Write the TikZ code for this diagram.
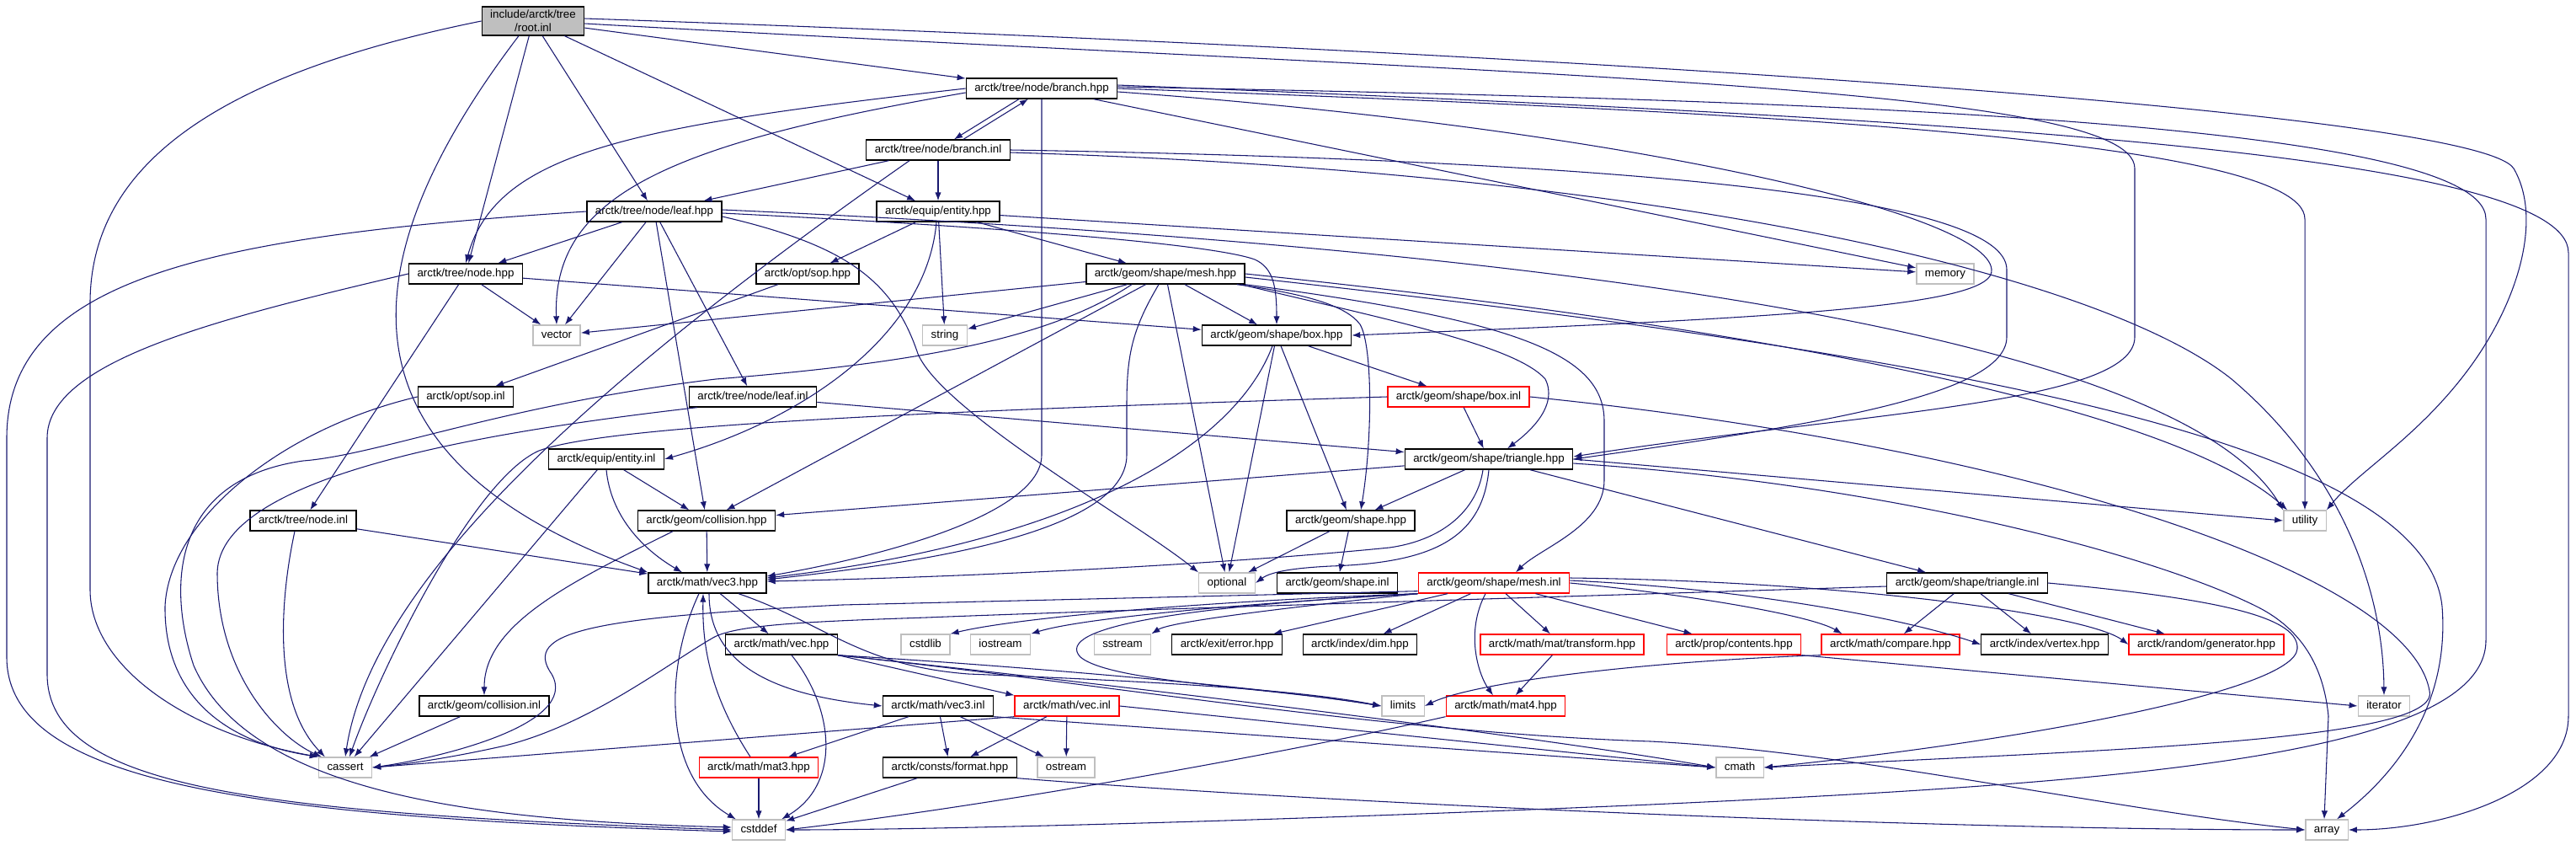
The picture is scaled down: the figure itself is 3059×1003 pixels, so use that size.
\documentclass[tikz,border=0pt]{standalone}
\usepackage{fontspec}
\setmainfont{Liberation Sans}
\usepackage{xcolor}
\usepackage{tikz}
\usetikzlibrary{arrows.meta, positioning, calc}
\definecolor{edgeblue}{HTML}{191970}
\definecolor{sysgrey}{HTML}{BFBFBF}

\begin{document}
\begin{tikzpicture}[
    x=0.75pt, y=-0.75pt,
    block/.style={rectangle, draw=black, fill=white, line width=1pt, font=\fontsize{10}{12}\selectfont, inner xsep=7.5pt, inner ysep=2pt, minimum height=18pt, text height=7.5pt, text depth=2.4pt},
    sysblock/.style={block, draw=sysgrey},
    redblock/.style={block, draw=red},
    rootblock/.style={rectangle, draw=black, fill=sysgrey, line width=1pt, font=\fontsize{10}{12}\selectfont, inner xsep=7.5pt, inner ysep=3pt, align=center},
    line/.style={draw=edgeblue, line width=0.8pt, -{Latex[length=7.5pt,width=5.5pt]}}
]
\useasboundingbox (0,0) rectangle (3059,1003);

\node [rootblock] (root) at (633,25) {include/arctk/tree\\/root.inl};
\node [block] (branchhpp) at (1237,105) {arctk/tree/node/branch.hpp};
\node [block] (branchinl) at (1114,178) {arctk/tree/node/branch.inl};
\node [block] (leafhpp) at (777,251) {arctk/tree/node/leaf.hpp};
\node [block] (entityhpp) at (1114,251) {arctk/equip/entity.hpp};
\node [block] (nodehpp) at (553,325) {arctk/tree/node.hpp};
\node [block] (sophpp) at (959,325) {arctk/opt/sop.hpp};
\node [block] (meshhpp) at (1384,325) {arctk/geom/shape/mesh.hpp};
\node [sysblock] (memory) at (2310,325) {memory};
\node [sysblock] (vector) at (661,398) {vector};
\node [sysblock] (string) at (1122,398) {string};
\node [block] (boxhpp) at (1516,398) {arctk/geom/shape/box.hpp};
\node [block] (sopinl) at (553,471) {arctk/opt/sop.inl};
\node [block] (leafinl) at (894,471) {arctk/tree/node/leaf.inl};
\node [redblock] (boxinl) at (1732,471) {arctk/geom/shape/box.inl};
\node [block] (entityinl) at (720,545) {arctk/equip/entity.inl};
\node [block] (trianglehpp) at (1768,545) {arctk/geom/shape/triangle.hpp};
\node [block] (nodeinl) at (360,618) {arctk/tree/node.inl};
\node [block] (collisionhpp) at (839,618) {arctk/geom/collision.hpp};
\node [block] (shapehpp) at (1604,618) {arctk/geom/shape.hpp};
\node [sysblock] (utility) at (2737,618) {utility};
\node [block] (vec3hpp) at (840,692) {arctk/math/vec3.hpp};
\node [sysblock] (optional) at (1457,692) {optional};
\node [block] (shapeinl) at (1588,692) {arctk/geom/shape.inl};
\node [redblock] (meshinl) at (1774,692) {arctk/geom/shape/mesh.inl};
\node [block] (triangleinl) at (2336,692) {arctk/geom/shape/triangle.inl};
\node [block] (vechpp) at (928,765) {arctk/math/vec.hpp};
\node [sysblock] (cstdlib) at (1099,765) {cstdlib};
\node [sysblock] (iostream) at (1188,765) {iostream};
\node [sysblock] (sstream) at (1333,765) {sstream};
\node [block] (errorhpp) at (1457,765) {arctk/exit/error.hpp};
\node [block] (dimhpp) at (1615,765) {arctk/index/dim.hpp};
\node [redblock] (transformhpp) at (1855,765) {arctk/math/mat/transform.hpp};
\node [redblock] (contentshpp) at (2059,765) {arctk/prop/contents.hpp};
\node [redblock] (comparehpp) at (2245,765) {arctk/math/compare.hpp};
\node [block] (vertexhpp) at (2428,765) {arctk/index/vertex.hpp};
\node [redblock] (generatorhpp) at (2620,765) {arctk/random/generator.hpp};
\node [block] (collisioninl) at (575,838) {arctk/geom/collision.inl};
\node [block] (vec3inl) at (1114,838) {arctk/math/vec3.inl};
\node [redblock] (vecinl) at (1267,838) {arctk/math/vec.inl};
\node [sysblock] (limits) at (1666,838) {limits};
\node [redblock] (mat4hpp) at (1788,838) {arctk/math/mat4.hpp};
\node [sysblock] (iterator) at (2831,838) {iterator};
\node [sysblock] (cassert) at (410,911) {cassert};
\node [redblock] (mat3hpp) at (901,911) {arctk/math/mat3.hpp};
\node [block] (formathpp) at (1128,911) {arctk/consts/format.hpp};
\node [sysblock] (ostream) at (1266,911) {ostream};
\node [sysblock] (cmath) at (2066,911) {cmath};
\node [sysblock] (cstddef) at (901,985) {cstddef};
\node [sysblock] (array) at (2763,985) {array};

\path [line] (root.west) .. controls (250,90) and (107,200) .. (107,360) -- (107,700) .. controls (107,790) and (220,870) .. (cassert.north west);
\path [line] (root) -- (nodehpp);
\path [line] ($(root.south)+(-17,0)$) .. controls (420,300) and (380,540) .. (vec3hpp.north west);
\path [line] (root) -- (leafhpp);
\path [line] (root) -- (entityhpp);
\path [line] (root) -- (branchhpp);
\path [line] ($(root.east)+(0,3)$) .. controls (1800,90) and (2535,100) .. (2535,200) -- (2535,400) .. controls (2535,480) and (2200,490) .. ($(trianglehpp.east)+(0,-3)$);
\path [line] ($(root.east)+(0,-3)$) .. controls (1800,60) and (2940,130) .. (2985,200) .. controls (3020,260) and (2990,360) .. (2930,440) .. controls (2870,520) and (2800,560) .. (utility.north east);

\path [line] (branchhpp.west) .. controls (750,150) and (590,180) .. (nodehpp.north);
\path [line] ($(branchhpp.west)+(0,5)$) .. controls (800,170) and (655,230) .. (vector.north);
\path [line] ($(branchhpp.south)+(-27,0)$) -- ($(branchinl.north)+(19,0)$);
\path [line] ($(branchinl.north)+(30,0)$) -- ($(branchhpp.south)+(-16,0)$);
\path [line] (branchhpp.south) -- (1237,540) .. controls (1237,610) and (1050,660) .. ($(vec3hpp.east)+(0,-8)$);
\path [line] (branchhpp) -- (memory);
\path [line] ($(branchhpp.east)+(0,4)$) .. controls (1900,150) and (2360,250) .. (2365,320) .. controls (2370,365) and (2100,378) .. (boxhpp.east);
\path [line] (branchhpp.east) .. controls (2000,130) and (2737,160) .. (2737,260) -- (utility.north);
\path [line] ($(branchhpp.east)+(0,-2)$) .. controls (2100,118) and (2952,140) .. (2952,260) -- (2952,760) .. controls (2952,900) and (2500,930) .. (1960,955) .. controls (1500,975) and (1100,985) .. (cstddef.east);
\path [line] ($(branchhpp.east)+(0,-4)$) .. controls (2300,140) and (3050,180) .. (3050,300) -- (3050,850) .. controls (3050,940) and (2900,985) .. (array.east);

\path [line] (branchinl) -- (leafhpp);
\path [line] (branchinl) -- (entityhpp);
\path [line] ($(branchinl.south)+(-34,0)$) .. controls (680,470) and (440,700) .. (cassert.north);
\path [line] (branchinl.east) .. controls (1900,190) and (2383,230) .. (2383,320) -- (2383,400) .. controls (2383,470) and (2150,505) .. (trianglehpp.east);
\path [line] ($(branchinl.east)+(0,3)$) .. controls (2000,205) and (2500,330) .. (2650,450) .. controls (2780,560) and (2830,700) .. (iterator.north);

\path [line] (leafhpp.west) .. controls (250,280) and (8,330) .. (8,520) -- (8,780) .. controls (8,930) and (300,970) .. ($(cstddef.west)+(0,2)$);
\path [line] (leafhpp) -- (nodehpp);
\path [line] (leafhpp) -- (vector);
\path [line] (leafhpp) -- (collisionhpp);
\path [line] (leafhpp) -- (leafinl);
\path [line] ($(leafhpp.east)+(0,2)$) .. controls (1200,270) and (1440,290) .. (1490,308) .. controls (1512,318) and (1516,340) .. (boxhpp.north);
\path [line] ($(leafhpp.east)+(0,-2)$) .. controls (2000,300) and (2600,420) .. (utility.north west);
\path [line] ($(leafhpp.east)+(0,6)$) .. controls (1000,290) and (1060,330) .. (1090,420) .. controls (1120,490) and (1350,620) .. (optional.north west);

\path [line] (entityhpp) -- (sophpp);
\path [line] ($(entityhpp.south)+(-2,0)$) .. controls (1100,400) and (950,500) .. (entityinl.east);
\path [line] (entityhpp) -- (string);
\path [line] (entityhpp) -- (meshhpp);
\path [line] (entityhpp) -- (memory);

\path [line] (nodehpp) -- (vector);
\path [line] (nodehpp) -- (boxhpp);
\path [line] (nodehpp) -- (nodeinl);
\path [line] (nodehpp.west) .. controls (250,380) and (56,430) .. (56,520) -- (56,800) .. controls (56,935) and (300,965) .. (cstddef.west);

\path [line] (sophpp) -- (sopinl);

\path [line] (meshhpp) -- (vector);
\path [line] (meshhpp) -- (string);
\path [line] (meshhpp) -- (boxhpp);
\path [line] (meshhpp) -- (optional);
\path [line] (meshhpp) -- (collisionhpp);
\path [line] ($(meshhpp.south)+(-8,0)$) .. controls (1345,390) and (1338,420) .. (1338,480) -- (1338,540) .. controls (1338,640) and (1050,672) .. ($(vec3hpp.east)+(0,-4)$);
\path [line] ($(meshhpp.south)+(-40,0)$) .. controls (1250,400) and (1100,430) .. (850,450) .. controls (600,480) and (450,540) .. (360,547) .. controls (200,570) and (200,700) .. (230,790) .. controls (300,950) and (600,975) .. ($(cstddef.west)+(0,-3)$);
\path [line] ($(meshhpp.south east)+(-10,0)$) .. controls (1560,350) and (1600,365) .. (1615,385) .. controls (1630,410) and (1630,520) .. ($(shapehpp.north)+(12,0)$);
\path [line] ($(meshhpp.south east)+(-5,0)$) .. controls (1650,380) and (1800,410) .. (1835,450) .. controls (1850,480) and (1820,510) .. ($(trianglehpp.north)+(22,0)$);
\path [line] (meshhpp.south east) .. controls (1800,380) and (1905,420) .. (1905,500) -- (1905,570) .. controls (1905,625) and (1830,650) .. ($(meshinl.north)+(26,0)$);
\path [line] (meshhpp.east) .. controls (2200,400) and (2600,500) .. ($(utility.north west)+(5,0)$);
\path [line] ($(meshhpp.east)+(0,4)$) .. controls (2300,420) and (2880,520) .. (2900,720) .. controls (2910,850) and (2830,930) .. ($(array.north)+(12,0)$);

\path [line] ($(boxhpp.south)+(-5,0)$) .. controls (1470,520) and (1300,640) .. ($(vec3hpp.east)+(0,-6)$);
\path [line] (boxhpp) -- (optional);
\path [line] (boxhpp) -- (shapehpp);
\path [line] (boxhpp) -- (boxinl);

\path [line] (sopinl.west) .. controls (330,510) and (200,620) .. (196,720) .. controls (195,820) and (260,880) .. (cassert.north west);

\path [line] (leafinl) -- (trianglehpp);
\path [line] ($(leafinl.south west)+(10,0)$) .. controls (600,510) and (260,560) .. (258,680) .. controls (258,800) and (330,875) .. ($(cassert.north west)+(4,0)$);

\path [line] (boxinl) -- (trianglehpp);
\path [line] (boxinl.west) .. controls (1100,488) and (720,505) .. (640,535) .. controls (560,570) and (450,800) .. ($(cassert.north)+(5,0)$);
\path [line] (boxinl.east) .. controls (2400,530) and (2860,680) .. (2885,820) .. controls (2900,880) and (2500,890) .. (cmath.east);

\path [line] (entityinl) -- (collisionhpp);
\path [line] (entityinl.south) .. controls (725,610) and (760,650) .. ($(vec3hpp.north)+(-30,0)$);
\path [line] (entityinl) -- (cassert);

\path [line] (trianglehpp) -- (collisionhpp);
\path [line] (trianglehpp) -- (shapehpp);
\path [line] ($(trianglehpp.south)+(-7,0)$) .. controls (1755,600) and (1720,640) .. (1650,650) .. controls (1450,670) and (1150,685) .. ($(vec3hpp.east)+(0,-2)$);
\path [line] (trianglehpp.south) .. controls (1760,640) and (1700,668) .. (1580,672) .. controls (1540,674) and (1510,678) .. (optional.east);
\path [line] (trianglehpp) -- (triangleinl);
\path [line] (trianglehpp.east) -- (utility.west);
\path [line] ($(trianglehpp.east)+(0,5)$) .. controls (2250,575) and (2560,660) .. (2680,720) .. controls (2740,750) and (2760,800) .. (2765,850) -- ($(array.north)+(-3,0)$);

\path [line] (nodeinl) -- (vec3hpp);
\path [line] ($(nodeinl.south)+(-10,0)$) .. controls (335,700) and (320,830) .. ($(cassert.north west)+(8,0)$);

\path [line] (collisionhpp) -- (vec3hpp);
\path [line] ($(collisionhpp.south)+(-40,0)$) .. controls (680,690) and (575,740) .. (collisioninl.north);
\path [line] (collisioninl) -- (cassert);

\path [line] (shapehpp) -- (optional);
\path [line] (shapehpp) -- (shapeinl);

\path [line] (vec3hpp) -- (vechpp);
\path [line] ($(vec3hpp.south)+(2,0)$) .. controls (842,790) and (920,825) .. (vec3inl.west);
\path [line] ($(vec3hpp.south)+(-10,0)$) .. controls (790,790) and (785,920) .. ($(cstddef.north west)+(5,0)$);
\path [line] ($(vec3hpp.south)+(37,0)$) .. controls (980,740) and (1020,790) .. (1150,800) .. controls (1400,810) and (1550,820) .. (limits.west);

\path [line] (vechpp.south east) -- (vecinl.north west);
\path [line] ($(vechpp.south)+(12,0)$) .. controls (990,840) and (1000,930) .. ($(cstddef.north east)+(-5,0)$);
\path [line] (vechpp.south east) .. controls (1200,790) and (1500,815) .. (limits.west);
\path [line] (vechpp.south east) .. controls (1300,810) and (1800,870) .. (cmath.west);
\path [line] (vechpp.south east) .. controls (1300,810) and (1650,870) .. (1960,880) .. controls (2200,892) and (2500,960) .. (array.west);

\path [line] ($(mat3hpp.north)+(-10,0)$) .. controls (840,820) and (834,760) .. ($(vec3hpp.south)+(-5,0)$);
\path [line] (mat3hpp) -- (cstddef);

\path [line] ($(vec3inl.south)+(-35,0)$) -- ($(mat3hpp.north)+(35,0)$);
\path [line] (vec3inl) -- (formathpp);
\path [line] (vec3inl) -- (ostream);
\path [line] (vec3inl.south east) -- (cmath.west);

\path [line] (vecinl.south west) -- (cassert.east);
\path [line] (vecinl) -- (formathpp);
\path [line] (vecinl) -- (ostream);
\path [line] (vecinl.east) -- (cmath.west);

\path [line] (meshinl.south west) .. controls (1400,715) and (1200,735) .. (cstdlib.north east);
\path [line] (meshinl.south west) .. controls (1450,718) and (1280,735) .. (iostream.north east);
\path [line] (meshinl.south west) .. controls (1520,722) and (1390,738) .. (sstream.north east);
\path [line] (meshinl) -- (errorhpp);
\path [line] (meshinl) -- (dimhpp);
\path [line] ($(meshinl.south)+(-10,0)$) .. controls (1740,750) and (1755,800) .. ($(mat4hpp.north)+(-15,0)$);
\path [line] (meshinl) -- (transformhpp);
\path [line] (meshinl) -- (contentshpp);
\path [line] (meshinl.east) .. controls (2000,705) and (2150,730) .. ($(comparehpp.north west)+(25,0)$);
\path [line] ($(meshinl.east)+(0,-3)$) .. controls (2100,700) and (2280,740) .. (vertexhpp.west);
\path [line] ($(meshinl.east)+(0,-6)$) .. controls (2200,690) and (2480,730) .. (generatorhpp.west);
\path [line] (meshinl.south west) .. controls (1400,720) and (1250,745) .. (1283,780) .. controls (1320,810) and (1500,815) .. (limits.west);
\path [line] ($(meshinl.south west)+(0,-3)$) -- (1000,718) .. controls (700,733) and (620,750) .. (655,800) .. controls (690,860) and (520,900) .. (cassert.east);

\path [line] ($(triangleinl.west)+(0,4)$) .. controls (1800,710) and (1300,725) .. (1100,733) .. controls (950,738) and (870,742) .. (845,758) .. controls (790,790) and (700,860) .. (600,885) .. controls (520,903) and (470,908) .. (cassert.east);
\path [line] (triangleinl) -- (comparehpp);
\path [line] (triangleinl) -- (vertexhpp);
\path [line] (triangleinl) -- (generatorhpp);
\path [line] (triangleinl.east) .. controls (2650,712) and (2730,735) .. (2728,770) .. controls (2725,820) and (2400,880) .. (cmath.east);

\path [line] (transformhpp) -- (mat4hpp);
\path [line] (contentshpp.south east) -- (iterator.west);
\path [line] (comparehpp.south west) .. controls (1950,785) and (1750,810) .. (limits.east);
\path [line] (mat4hpp.south west) .. controls (1500,900) and (1150,960) .. (cstddef.east);
\path [line] (formathpp) -- (cstddef);
\path [line] (formathpp.south east) .. controls (1600,955) and (2300,985) .. (array.west);
\end{tikzpicture}
\end{document}
